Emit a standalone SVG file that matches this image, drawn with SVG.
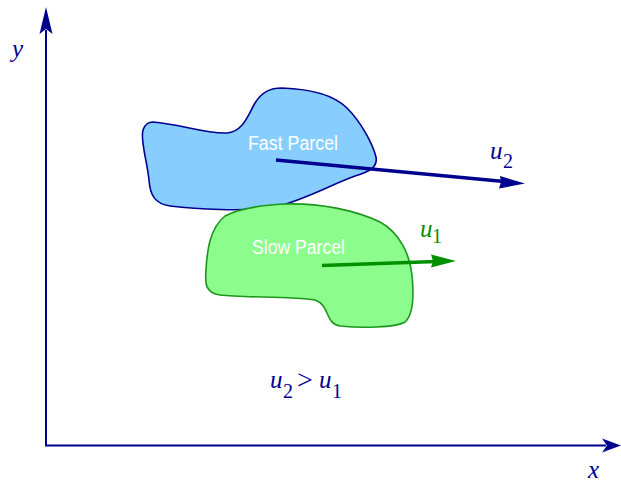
<svg xmlns="http://www.w3.org/2000/svg" width="621" height="485" viewBox="0 0 621 485">
<style>
.axis{stroke:#00008f;stroke-width:2;fill:none}
.head-n{fill:#00008f;stroke:none}
.head-g{fill:#009000;stroke:none}
.lbl{font-family:"Liberation Sans",Arial,sans-serif;font-size:20px;fill:#ffffff}
.math{font-family:"Liberation Serif","Times New Roman",serif;font-size:25px;font-style:italic}
.sub{font-style:normal;font-size:20px}
.navy{fill:#00008f}
.green{fill:#009000}
</style>
<rect width="621" height="485" fill="#ffffff"/>
<g id="fast-parcel">
<path d="M 153,122 C 180,124 205,134 227,133 C 243,132 248,115 255,103 C 262,92 270,88 282,88 C 310,89 334,95 347,108 C 362,123 373,145 376,157 C 378,168 368,172 355,176 C 330,185 305,200 275,207 C 245,212 195,209 170,206 C 155,204 150,195 149,180 C 147,160 140,140 143,130 C 145,124 148,122 153,122 Z" fill="#87ceff" stroke="#00008f" stroke-width="1.6"/>
<text class="lbl" x="248" y="150" textLength="90" lengthAdjust="spacingAndGlyphs">Fast Parcel</text>
</g>
<g id="slow-parcel">
<path d="M 225,216 C 240,208 265,205 285,204 C 320,203 355,210 380,222 C 400,233 410,255 412,275 C 414,295 413,315 405,322 C 395,328 360,328 340,326 C 325,324 330,305 315,300 C 290,296 245,298 220,295 C 205,293 205,283 206,270 C 207,250 210,228 225,216 Z" fill="#8cfc8c" stroke="#1c961c" stroke-width="1.6"/>
<text class="lbl" x="252" y="254" textLength="93" lengthAdjust="spacingAndGlyphs">Slow Parcel</text>
</g>
<g id="connectors">
<polyline class="axis" points="46,30 46,445.5 606,445.5"/>
<polygon class="head-n" points="46,7 52.5,34 46,29 39.5,34"/>
<polygon class="head-n" points="621,445.5 602,452.5 607,445.5 602,438.5"/>
<line x1="276" y1="160" x2="504" y2="181.5" stroke="#00008f" stroke-width="3.5"/>
<polygon class="head-n" points="525,183.5 499,188.5 501,182 500,176"/>
<line x1="322" y1="265.5" x2="436" y2="261.5" stroke="#009000" stroke-width="3.5"/>
<polygon class="head-g" points="456,261 431,267.5 433,261 431,254.5"/>
</g>
<g id="labels">
<text class="math navy" x="12" y="57">y</text>
<text class="math navy" x="588" y="478">x</text>
<text class="math navy" x="490" y="159">u<tspan class="sub" x="503" y="168">2</tspan></text>
<text class="math green" x="420" y="237">u<tspan class="sub" x="432" y="243">1</tspan></text>
<text class="math navy" x="270" y="388">u<tspan class="sub" x="283" y="398">2</tspan><tspan style="font-style:normal;font-size:28px" x="297" y="389">&gt;</tspan><tspan x="319" y="388">u</tspan><tspan class="sub" x="332" y="398">1</tspan></text>
</g>
</svg>
